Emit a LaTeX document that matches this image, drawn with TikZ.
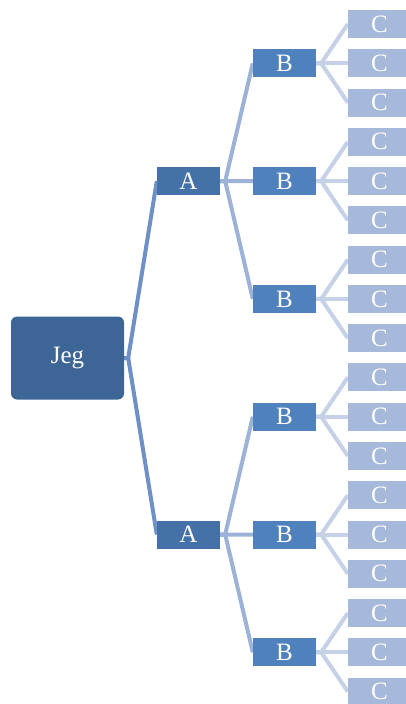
\documentclass[tikz,border=0pt]{standalone}
\usepackage{fontspec}
\setmainfont{Liberation Serif}
\usetikzlibrary{backgrounds}
\definecolor{cjeg}{HTML}{3D6596}
\definecolor{ca}{HTML}{4471A8}
\definecolor{cb}{HTML}{4F81BD}
\definecolor{cc}{HTML}{A6B9DA}
\definecolor{lja}{HTML}{6E90C6}
\definecolor{lab}{HTML}{9DB2D7}
\definecolor{lbc}{HTML}{C4D1E7}
\tikzset{
  boxbase/.style={rectangle, inner sep=0pt, text=white, font=\fontsize{25}{27}\selectfont},
  jegbox/.style={boxbase, fill=cjeg, minimum width=113pt, minimum height=83pt, rounded corners=6pt},
  abox/.style={boxbase, fill=ca, minimum width=63pt, minimum height=28pt},
  bbox/.style={boxbase, fill=cb, minimum width=63pt, minimum height=28pt},
  cbox/.style={boxbase, fill=cc, minimum width=63pt, minimum height=28pt},
  conn/.style={line width=4pt, line join=miter},
}
\begin{document}
\begin{tikzpicture}[x=1pt, y=-1pt]
\useasboundingbox (0,0) rectangle (405,704);
\node[jegbox] (jeg) at (67.5,358) {Jeg};
\node[abox] (a1) at (188.5,181.1) {A};
\node[abox] (a2) at (188.5,534.5) {A};
\foreach \i in {0,...,5}{
  \pgfmathsetmacro{\by}{24+39.27*(3*\i+1)}
  \node[bbox] (b\i) at (284.5,\by) {B};
  \foreach \j in {0,1,2}{
    \pgfmathsetmacro{\cy}{24+39.27*(3*\i+\j)}
    \node[cbox] (c\i\j) at (379.5,\cy) {C};
  }
}
\begin{scope}[on background layer]
  \draw[conn, lja] (jeg.east) -- ++(4,0) -- (a1.west);
  \draw[conn, lja] (jeg.east) -- ++(4,0) -- (a2.west);
  \foreach \b in {0,1,2}{
    \draw[conn, lab] (a1.east) -- ++(5,0) -- (b\b.west);
  }
  \foreach \b in {3,4,5}{
    \draw[conn, lab] (a2.east) -- ++(5,0) -- (b\b.west);
  }
  \foreach \i in {0,...,5}{
    \foreach \j in {0,1,2}{
      \draw[conn, lbc] (b\i.east) -- ++(5,0) -- (c\i\j.west);
    }
  }
\end{scope}
\end{tikzpicture}
\end{document}
